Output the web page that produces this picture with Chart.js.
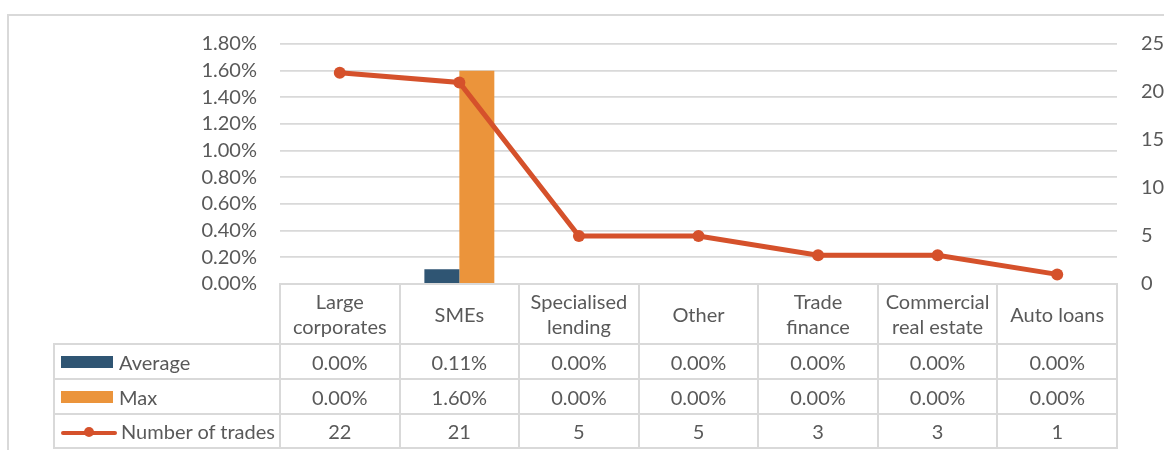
<!DOCTYPE html>
<html>
<head>
<meta charset="utf-8">
<script src="https://cdn.jsdelivr.net/npm/chart.js@4/dist/chart.umd.min.js"></script>
<style>
  html, body { margin: 0; padding: 0; background: #fff; overflow: hidden; }
  #wrap { position: relative; width: 1164px; height: 450px; }
  #frame { position: absolute; left: 7px; top: 14px; width: 1300px; height: 600px;
           border-top: 2px solid #d9d9d9; border-left: 2px solid #d9d9d9; box-sizing: border-box; }
  canvas { position: absolute; left: 0; top: 0; }
  #tbl { position: absolute; border-collapse: collapse; table-layout: fixed;
         font-family: Lato, "Open Sans", sans-serif; font-size: 20px; color: #595959; }
  #tbl td { border: 2px solid #d9d9d9; text-align: center; vertical-align: middle; padding: 0; white-space: nowrap; }
  #tbl td.blank { border: none; }
  #tbl td.leg { text-align: left; padding-left: 6px; }
  #tbl .hdr { line-height: 25px; }
  .sw { display: inline-block; width: 52px; height: 12px; vertical-align: middle; margin-right: 6px; position: relative; top: -2px; }
  .ln { display: inline-block; width: 56px; height: 12px; vertical-align: middle; margin-right: 4px; position: relative; top: -2px; }
  .ln i { position: absolute; left: 0; top: 5px; width: 56px; height: 4px; border-radius: 2px; }
  .ln b { position: absolute; left: 23px; top: 1px; width: 10px; height: 10px; border-radius: 5px; }
</style>
</head>
<body>
<div id="wrap">
  <div id="frame"></div>
  <canvas id="c" width="1164" height="450"></canvas>
  <table id="tbl"></table>
</div>
<script>
// ---- data ----
const categories = ['Large corporates', 'SMEs', 'Specialised lending', 'Other', 'Trade finance', 'Commercial real estate', 'Auto loans'];
const categoryLines = [['Large', 'corporates'], ['SMEs'], ['Specialised', 'lending'], ['Other'], ['Trade', 'finance'], ['Commercial', 'real estate'], ['Auto loans']];
const average = [0.0000, 0.0011, 0.0000, 0.0000, 0.0000, 0.0000, 0.0000];
const maxValues = [0.0000, 0.0160, 0.0000, 0.0000, 0.0000, 0.0000, 0.0000];
const trades = [22, 21, 5, 5, 3, 3, 1];
const seriesNames = ['Average', 'Max', 'Number of trades'];

const colAvg = '#2F5573';
const colMax = '#EB943B';
const colLine = '#D5512B';
const textCol = '#595959';
const gridCol = '#d9d9d9';
const FONT = 'Lato, "Open Sans", sans-serif';

Chart.defaults.font.family = FONT;
Chart.defaults.font.size = 20;
Chart.defaults.color = textCol;

const chart = new Chart(document.getElementById('c'), {
  type: 'bar',
  data: {
    labels: categories,
    datasets: [
      { type: 'line', label: seriesNames[2], data: trades, yAxisID: 'y1', order: 0,
        borderColor: colLine, backgroundColor: colLine, borderWidth: 5,
        pointRadius: 6, pointHoverRadius: 6, pointBackgroundColor: colLine, pointBorderWidth: 0,
        tension: 0, clip: false },
      { type: 'bar', label: seriesNames[0], data: average, yAxisID: 'y', order: 1,
        backgroundColor: colAvg, barPercentage: 1, categoryPercentage: 0.585 },
      { type: 'bar', label: seriesNames[1], data: maxValues, yAxisID: 'y', order: 1,
        backgroundColor: colMax, barPercentage: 1, categoryPercentage: 0.585 }
    ]
  },
  options: {
    responsive: false,
    animation: false,
    events: [],
    layout: { padding: { top: 44, bottom: 166, left: 0, right: 0 } },
    plugins: { legend: { display: false }, tooltip: { enabled: false } },
    scales: {
      x: { type: 'category', display: false, offset: true },
      y: {
        position: 'left', min: 0, max: 0.018,
        border: { display: false },
        grid: { color: gridCol, lineWidth: 1.7, drawTicks: false },
        ticks: { stepSize: 0.002, padding: 23, color: textCol, autoSkip: false,
                 callback: v => (v * 100).toFixed(2) + '%' },
        afterFit: s => { s.width = 280; s.paddingTop = 0; s.paddingBottom = 0; }
      },
      y1: {
        position: 'right', min: 0, max: 25,
        border: { display: false },
        grid: { display: false, drawTicks: false },
        ticks: { stepSize: 5, padding: 24, color: textCol, autoSkip: false },
        afterFit: s => { s.width = 47; s.paddingTop = 0; s.paddingBottom = 0; }
      }
    }
  }
});

// ---- data table built from the arrays, aligned to the chart's x scale ----
(function buildTable() {
  const area = chart.chartArea;
  const n = categories.length;
  const colW = (area.right - area.left) / n;
  const legLeft = 54;
  const tbl = document.getElementById('tbl');
  tbl.style.left = (legLeft - 1) + 'px';
  tbl.style.top = (area.bottom - 1) + 'px';
  tbl.style.width = (area.right - legLeft + 2) + 'px';

  const cg = document.createElement('colgroup');
  const c0 = document.createElement('col'); c0.style.width = (area.left - legLeft) + 'px'; cg.appendChild(c0);
  for (let i = 0; i < n; i++) { const c = document.createElement('col'); c.style.width = colW + 'px'; cg.appendChild(c); }
  tbl.appendChild(cg);

  const hr = document.createElement('tr'); hr.style.height = '60px';
  const blank = document.createElement('td'); blank.className = 'blank'; hr.appendChild(blank);
  categoryLines.forEach(lines => {
    const td = document.createElement('td');
    const d = document.createElement('div'); d.className = 'hdr';
    d.innerHTML = lines.join('<br>');
    td.appendChild(d); hr.appendChild(td);
  });
  tbl.appendChild(hr);

  const pct = v => (v * 100).toFixed(2) + '%';
  const rows = [
    { name: seriesNames[0], vals: average.map(pct), mk: 'sw', col: colAvg, h: 35 },
    { name: seriesNames[1], vals: maxValues.map(pct), mk: 'sw', col: colMax, h: 35 },
    { name: seriesNames[2], vals: trades.map(String), mk: 'ln', col: colLine, h: 34 }
  ];
  rows.forEach(r => {
    const tr = document.createElement('tr'); tr.style.height = r.h + 'px';
    const lg = document.createElement('td'); lg.className = 'leg';
    const m = document.createElement('span'); m.className = r.mk;
    if (r.mk === 'sw') { m.style.background = r.col; }
    else {
      const i = document.createElement('i'); i.style.background = r.col;
      const b = document.createElement('b'); b.style.background = r.col;
      m.appendChild(i); m.appendChild(b);
    }
    lg.appendChild(m);
    lg.appendChild(document.createTextNode(r.name));
    tr.appendChild(lg);
    r.vals.forEach(v => { const td = document.createElement('td'); td.textContent = v; tr.appendChild(td); });
    tbl.appendChild(tr);
  });
})();
</script>
</body>
</html>
